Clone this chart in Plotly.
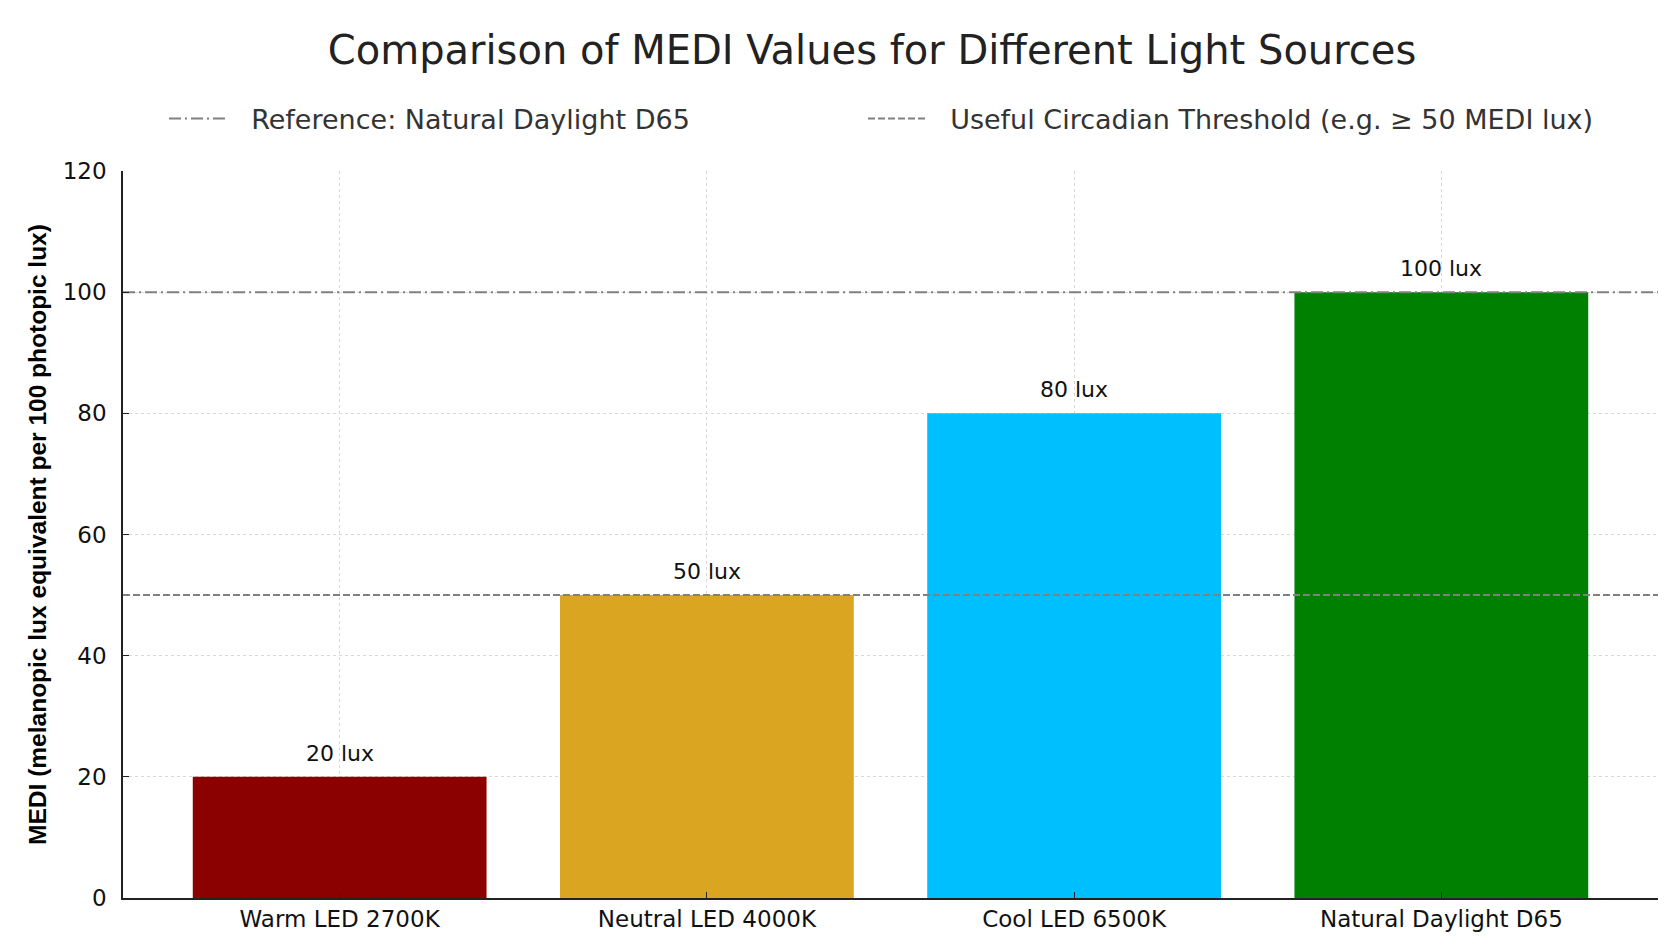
import plotly.graph_objects as go

# ---- data ----
categories = ["Warm LED 2700K", "Neutral LED 4000K", "Cool LED 6500K", "Natural Daylight D65"]
medi_values = [20, 50, 80, 100]
bar_colors = ["#8B0000", "#DAA520", "#00BFFF", "#008000"]
bar_labels = ["20 lux", "50 lux", "80 lux", "100 lux"]
reference_value = 100
reference_name = "Reference: Natural Daylight D65"
threshold_value = 50
threshold_name = "Useful Circadian Threshold (e.g. \u2265 50 MEDI lux)"
y_ticks = [0, 20, 40, 60, 80, 100, 120]

positions = list(range(len(categories)))
x_range = [-0.59, len(categories) - 1 + 0.59]
GAP = "\u00a0\u00a0"

fig = go.Figure()

fig.add_trace(go.Bar(
    x=positions, y=medi_values, width=0.8,
    marker=dict(color=bar_colors, line=dict(width=0)),
    showlegend=False, hoverinfo="skip",
))

fig.add_trace(go.Scatter(
    x=x_range, y=[reference_value, reference_value], mode="lines",
    name=GAP + reference_name, legend="legend",
    line=dict(color="#808080", width=2, dash="12px,4px,2px,4px"),
))
fig.add_trace(go.Scatter(
    x=x_range, y=[threshold_value, threshold_value], mode="lines",
    name=GAP + threshold_name, legend="legend2",
    line=dict(color="#808080", width=2, dash="7px,3px"),
))

for xp, v, lab in zip(positions, medi_values, bar_labels):
    fig.add_annotation(x=xp, y=v, text=lab, showarrow=False, yanchor="bottom",
                       yshift=9, font=dict(family="DejaVu Sans", size=22, color="#111111"))

legend_common = dict(orientation="h", xref="container", yref="container",
                     xanchor="left", y=1 - 119 / 941, yanchor="middle",
                     font=dict(family="DejaVu Sans", size=27, color="#333333"),
                     itemwidth=60, bgcolor="rgba(0,0,0,0)")

fig.update_layout(
    width=1672, height=941,
    paper_bgcolor="white", plot_bgcolor="white",
    margin=dict(l=123, r=14, t=171, b=43, autoexpand=False),
    title=dict(text="Comparison of MEDI Values for Different Light Sources",
               font=dict(family="DejaVu Sans", size=40, color="#222222"),
               x=872 / 1672, xanchor="center", xref="container",
               y=1 - 50 / 941, yanchor="middle", yref="container"),
    legend=dict(x=164 / 1672, **legend_common),
    legend2=dict(x=863 / 1672, **legend_common),
    font=dict(family="DejaVu Sans"),
)

fig.update_xaxes(
    range=x_range, tickmode="array", tickvals=positions, ticktext=categories,
    showgrid=True, gridcolor="#d8d8d8", griddash="dot", gridwidth=1,
    showline=True, linecolor="#222222", linewidth=1.5,
    ticks="inside", ticklen=6, tickcolor="#222222",
    tickfont=dict(family="DejaVu Sans", size=23, color="#111111"),
    zeroline=False, layer="above traces",
)
fig.update_yaxes(
    range=[0, 120], tickmode="array", tickvals=y_ticks,
    showgrid=True, gridcolor="#d8d8d8", griddash="dot", gridwidth=1,
    showline=True, linecolor="#222222", linewidth=1.5,
    ticks="inside", ticklen=6, tickcolor="#222222",
    tickfont=dict(family="DejaVu Sans", size=23, color="#111111"),
    ticklabelstandoff=10,
    zeroline=False, layer="above traces",
    title=dict(text="MEDI (melanopic lux equivalent per 100 photopic lux)",
               font=dict(family="Liberation Sans", size=24.5, color="#000000", weight="bold"),
               standoff=9),
)

fig.write_html("out.html")
